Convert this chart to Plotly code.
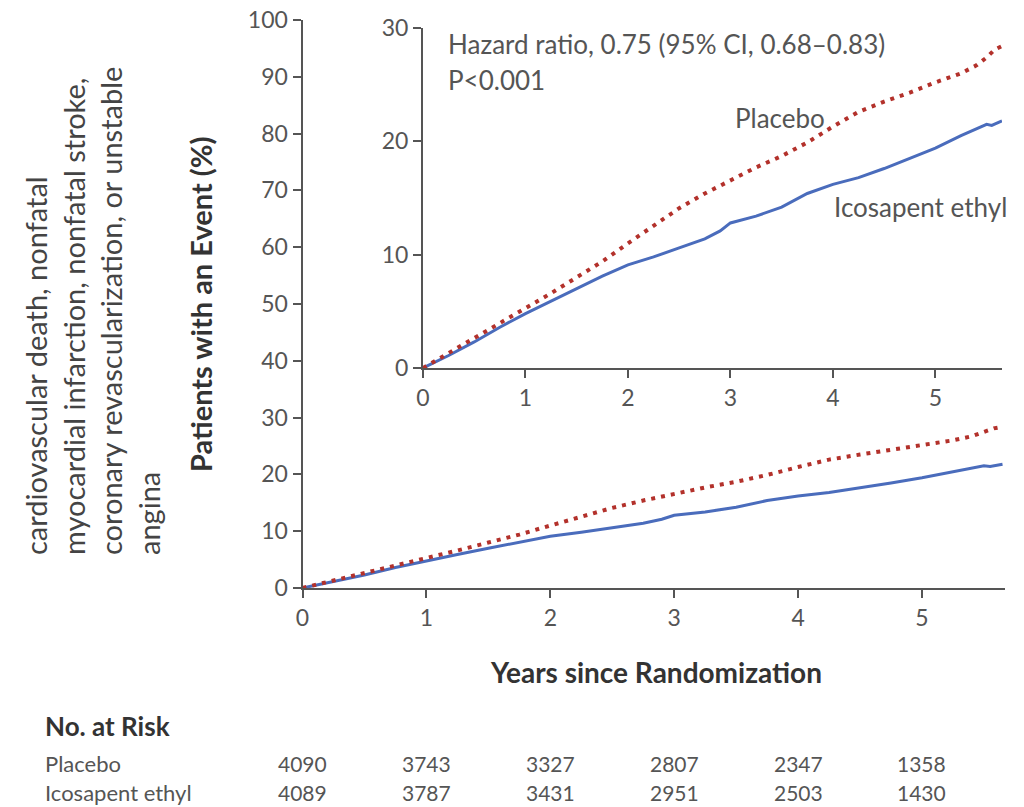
import plotly.graph_objects as go

# ---------------- data ----------------
years_placebo = [0, 0.25, 0.5, 0.75, 1.0, 1.25, 1.5, 1.75, 2.0, 2.25, 2.5, 2.75, 3.0, 3.25,
                 3.5, 3.75, 4.0, 4.25, 4.5, 4.75, 5.0, 5.25, 5.4, 5.5, 5.58, 5.65]
pct_placebo = [0, 1.3, 2.6, 3.9, 5.2, 6.6, 8.0, 9.4, 11.0, 12.6, 14.1, 15.4, 16.6, 17.7,
               18.7, 19.9, 21.3, 22.6, 23.5, 24.3, 25.2, 26.0, 26.7, 27.4, 28.1, 28.4]

years_icosa = [0, 0.25, 0.5, 0.75, 1.0, 1.25, 1.5, 1.75, 2.0, 2.25, 2.5, 2.75, 2.9, 3.0,
               3.25, 3.5, 3.75, 4.0, 4.25, 4.5, 4.75, 5.0, 5.25, 5.4, 5.5, 5.55, 5.65]
pct_icosa = [0, 1.1, 2.3, 3.6, 4.8, 5.9, 7.0, 8.1, 9.1, 9.8, 10.6, 11.4, 12.1, 12.8,
             13.4, 14.2, 15.4, 16.2, 16.8, 17.6, 18.5, 19.4, 20.5, 21.1, 21.5, 21.4, 21.8]

risk_years = [0, 1, 2, 3, 4, 5]
risk_placebo = [4090, 3743, 3327, 2807, 2347, 1358]
risk_icosa = [4089, 3787, 3431, 2951, 2503, 1430]

main_yticks = [0, 10, 20, 30, 40, 50, 60, 70, 80, 90, 100]
inset_yticks = [0, 10, 20, 30]
xticks = [0, 1, 2, 3, 4, 5]

# ---------------- styling ----------------
W, H = 1024, 807
FONT = "Lato"
GRAY = "#555555"
DARK = "#333333"
RED = "#b3312b"
BLUE = "#4a6cbc"


def fx(p):
    return p / W


def fy(p):
    return 1 - p / H


fig = go.Figure()

for xa, ya in (("x", "y"), ("x2", "y2")):
    fig.add_trace(go.Scatter(x=years_icosa, y=pct_icosa, mode="lines", xaxis=xa, yaxis=ya,
                             line=dict(color=BLUE, width=3), showlegend=False,
                             name="Icosapent ethyl"))
    fig.add_trace(go.Scatter(x=years_placebo, y=pct_placebo, mode="lines", xaxis=xa, yaxis=ya,
                             line=dict(color=RED, width=4, dash="4px,6px"), showlegend=False,
                             name="Placebo"))

axis_common = dict(showline=True, linecolor=GRAY, linewidth=2, ticks="outside", ticklen=8,
                   tickwidth=2, tickcolor=GRAY, showgrid=False, zeroline=False,
                   automargin=False,
                   tickfont=dict(family=FONT, size=23, color=GRAY))

fig.update_layout(
    width=W, height=H, autosize=False,
    margin=dict(l=0, r=0, t=0, b=0, pad=0),
    paper_bgcolor="white", plot_bgcolor="rgba(0,0,0,0)",
    xaxis=dict(domain=[fx(302.5), fx(1005)], range=[0, 5.67], tickvals=xticks,
               anchor="y", **axis_common),
    yaxis=dict(domain=[fy(588), fy(20)], range=[0, 100], tickvals=main_yticks,
               anchor="x", **axis_common),
    xaxis2=dict(domain=[fx(423), fx(1002)], range=[0, 5.65], tickvals=xticks,
                anchor="y2", **axis_common),
    yaxis2=dict(domain=[fy(368), fy(28)], range=[0, 30], tickvals=inset_yticks,
                anchor="x2", **axis_common),
)

ann = []
ann.append(dict(text="cardiovascular death, nonfatal<br>myocardial infarction, nonfatal stroke,"
                     "<br>coronary revascularization, or unstable<br>angina",
                xref="paper", yref="paper", x=fx(92), y=fy(557), xanchor="center",
                yanchor="bottom", textangle=-90, align="left", showarrow=False,
                font=dict(family=FONT, size=29, color="#444444")))
ann.append(dict(text="<b>Patients with an Event (%)</b>", xref="paper", yref="paper",
                x=fx(200), y=fy(305), xanchor="center", yanchor="middle", textangle=-90,
                showarrow=False, font=dict(family=FONT, size=29, color=DARK)))
ann.append(dict(text="<b>Years since Randomization</b>", xref="paper", yref="paper",
                x=fx(656), y=fy(672), xanchor="center", yanchor="middle", showarrow=False,
                font=dict(family=FONT, size=28, color=DARK)))
ann.append(dict(text="Hazard ratio, 0.75 (95% CI, 0.68–0.83)", xref="paper", yref="paper",
                x=fx(446), y=fy(44), xanchor="left", yanchor="middle", showarrow=False,
                font=dict(family=FONT, size=26, color=GRAY)))
ann.append(dict(text="P&lt;0.001", xref="paper", yref="paper",
                x=fx(446), y=fy(80), xanchor="left", yanchor="middle", showarrow=False,
                font=dict(family=FONT, size=26, color=GRAY)))
ann.append(dict(text="Placebo", xref="paper", yref="paper", x=fx(780), y=fy(118),
                xanchor="center", yanchor="middle", showarrow=False,
                font=dict(family=FONT, size=26, color=GRAY)))
ann.append(dict(text="Icosapent ethyl", xref="paper", yref="paper", x=fx(920), y=fy(207),
                xanchor="center", yanchor="middle", showarrow=False,
                font=dict(family=FONT, size=26, color=GRAY)))

# risk table
ann.append(dict(text="<b>No. at Risk</b>", xref="paper", yref="paper", x=fx(43), y=fy(726),
                xanchor="left", yanchor="middle", showarrow=False,
                font=dict(family=FONT, size=26, color=DARK)))
ann.append(dict(text="Placebo", xref="paper", yref="paper", x=fx(43), y=fy(763),
                xanchor="left", yanchor="middle", showarrow=False,
                font=dict(family=FONT, size=22, color=GRAY)))
ann.append(dict(text="Icosapent ethyl", xref="paper", yref="paper", x=fx(43), y=fy(792),
                xanchor="left", yanchor="middle", showarrow=False,
                font=dict(family=FONT, size=22, color=GRAY)))
for yr, p, i in zip(risk_years, risk_placebo, risk_icosa):
    ann.append(dict(text=str(p), xref="x", yref="paper", x=yr, y=fy(763), xanchor="center",
                    yanchor="middle", showarrow=False,
                    font=dict(family=FONT, size=21, color=GRAY)))
    ann.append(dict(text=str(i), xref="x", yref="paper", x=yr, y=fy(792), xanchor="center",
                    yanchor="middle", showarrow=False,
                    font=dict(family=FONT, size=21, color=GRAY)))

fig.update_layout(annotations=ann)
fig.write_html("out.html", config={"displayModeBar": False},
               post_script="document.body.style.margin='0';"
                           "document.body.style.overflow='hidden';")
